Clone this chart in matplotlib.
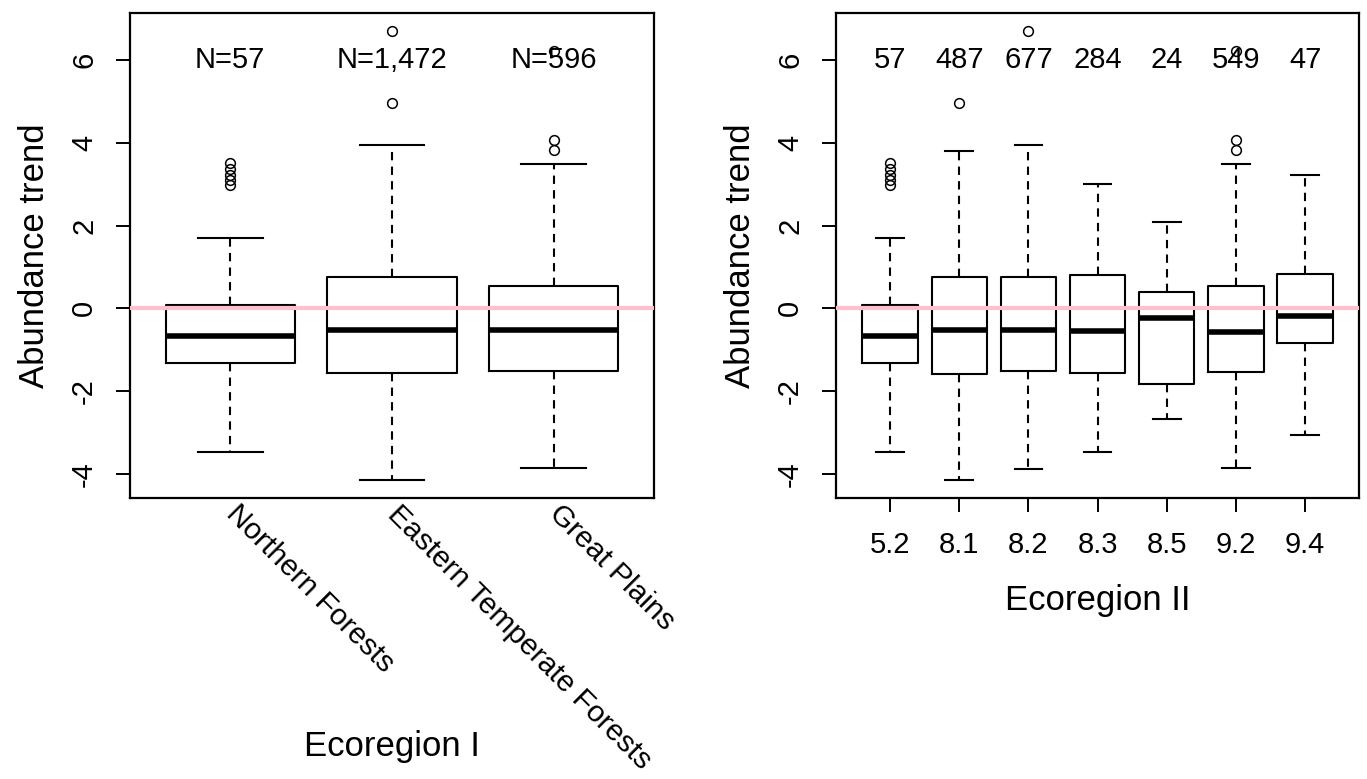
import matplotlib
matplotlib.use("Agg")
import matplotlib.pyplot as plt
import matplotlib.transforms as mtransforms

plt.rcParams['font.family'] = ['Liberation Sans', 'DejaVu Sans']

# Ecoregion I
eco1_names = ["Northern Forests", "Eastern Temperate Forests", "Great Plains"]
eco1_n = ["N=57", "N=1,472", "N=596"]
eco1_med = [-0.67, -0.52, -0.52]
eco1_q1 = [-1.33, -1.57, -1.50]
eco1_q3 = [0.08, 0.76, 0.55]
eco1_lo = [-3.46, -4.14, -3.86]
eco1_hi = [1.69, 3.95, 3.48]
eco1_out = [[3.50, 3.36, 3.22, 3.10, 2.98], [6.70, 4.97], [6.22, 4.06, 3.82]]

# Ecoregion II
eco2_names = ["5.2", "8.1", "8.2", "8.3", "8.5", "9.2", "9.4"]
eco2_n = ["57", "487", "677", "284", "24", "549", "47"]
eco2_med = [-0.67, -0.52, -0.52, -0.55, -0.24, -0.58, -0.18]
eco2_q1 = [-1.33, -1.58, -1.50, -1.57, -1.83, -1.53, -0.84]
eco2_q3 = [0.08, 0.76, 0.76, 0.80, 0.39, 0.55, 0.84]
eco2_lo = [-3.46, -4.14, -3.88, -3.46, -2.68, -3.86, -3.05]
eco2_hi = [1.69, 3.80, 3.95, 3.01, 2.09, 3.48, 3.23]
eco2_out = [[3.50, 3.36, 3.22, 3.10, 2.98], [4.97], [6.70], [], [], [6.22, 4.06, 3.82], []]

yticks = [-4, -2, 0, 2, 4, 6]
ylims = (-4.58, 7.135)


def make_stats(med, q1, q3, lo, hi, out):
    stats = []
    for i in range(len(med)):
        stats.append(dict(med=med[i], q1=q1[i], q3=q3[i],
                          whislo=lo[i], whishi=hi[i], fliers=out[i]))
    return stats


def draw_panel(ax, stats, counts):
    pos = list(range(1, len(stats) + 1))
    ax.bxp(stats, positions=pos, widths=0.8, showcaps=True,
           boxprops=dict(color='black', lw=1.5),
           whiskerprops=dict(color='black', lw=1.5, linestyle=(0, (4, 3))),
           capprops=dict(color='black', lw=1.5),
           medianprops=dict(color='black', lw=4.0, solid_capstyle='butt'),
           flierprops=dict(marker='o', markerfacecolor='none', markeredgecolor='black',
                           markersize=7, markeredgewidth=1.1))
    ax.axhline(0, color='#FFC0CB', lw=3.0, zorder=5)
    for p, c in zip(pos, counts):
        ax.text(p, 6, c, ha='center', va='center', fontsize=21, zorder=6)
    n = len(stats)
    pad = 0.04 * n
    ax.set_xlim(0.5 - pad, n + 0.5 + pad)
    ax.set_ylim(*ylims)
    ax.set_yticks(yticks)
    ax.set_yticklabels([str(v) for v in yticks], rotation=90, va='center')
    ax.tick_params(axis='y', length=10, width=1.4, pad=13, labelsize=21)
    for s in ax.spines.values():
        s.set_linewidth(1.6)
    ax.set_ylabel("Abundance trend", fontsize=25, labelpad=14)


fig = plt.figure(figsize=(13.67, 7.79), dpi=100)
ax1 = fig.add_axes([0.0951, 0.3607, 0.3833, 0.6226])
ax2 = fig.add_axes([0.6116, 0.3607, 0.3826, 0.6226])

draw_panel(ax1, make_stats(eco1_med, eco1_q1, eco1_q3, eco1_lo, eco1_hi, eco1_out), eco1_n)
draw_panel(ax2, make_stats(eco2_med, eco2_q1, eco2_q3, eco2_lo, eco2_hi, eco2_out), eco2_n)

# left panel: slanted category names below the box
ax1.set_xticks([])
trans = mtransforms.blended_transform_factory(ax1.transData, ax1.transAxes)
for i, name in enumerate(eco1_names):
    ax1.text(i + 1, -0.024, name, transform=trans, rotation=-45, rotation_mode='anchor',
             ha='left', va='center', fontsize=21.5, clip_on=False)
ax1.text(0.5, -0.512, "Ecoregion I", transform=ax1.transAxes, ha='center', va='center',
         fontsize=25)

ax2.set_xticks(range(1, len(eco2_names) + 1))
ax2.set_xticklabels(eco2_names)
ax2.tick_params(axis='x', length=10, width=1.4, pad=14, labelsize=21)
ax2.set_xlabel("Ecoregion II", fontsize=25, labelpad=18)

fig.savefig("out.png", dpi=100)
